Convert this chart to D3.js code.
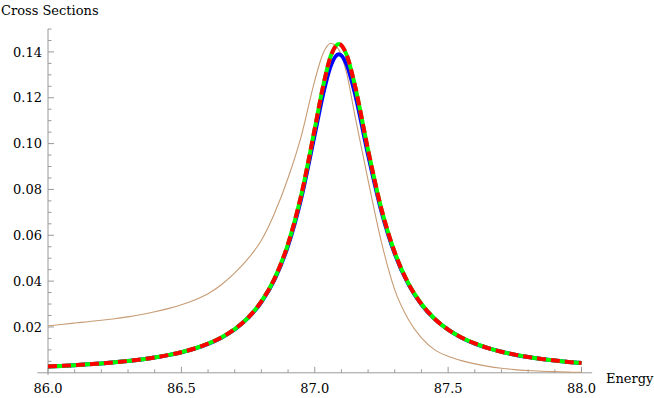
<!DOCTYPE html>
<html>
<head>
<meta charset="utf-8">
<script src="https://cdn.jsdelivr.net/npm/d3@7"></script>
<style>
  body { margin: 0; background: #fff; }
</style>
</head>
<body>
<script>
// Energy grid (shared by all curves)
var energy = [86.0, 86.05, 86.1, 86.15, 86.2, 86.25, 86.3, 86.35, 86.4, 86.45,
    86.5, 86.55, 86.6, 86.65, 86.7, 86.75, 86.8, 86.85, 86.9, 86.95,
    87.0, 87.03, 87.06, 87.09, 87.12, 87.15, 87.2, 87.25, 87.3, 87.35,
    87.4, 87.45, 87.5, 87.55, 87.6, 87.65, 87.7, 87.75, 87.8, 87.85,
    87.9, 87.95, 88.0];

// blue solid curve
var blueVals = [0.00276, 0.00302, 0.00333, 0.00368, 0.00409, 0.00458, 0.00515, 0.00584, 0.00668, 0.0077,
    0.00897, 0.01058, 0.01265, 0.01534, 0.01896, 0.02392, 0.03089, 0.0409, 0.0555, 0.0765,
    0.104, 0.1209, 0.134, 0.139, 0.1344, 0.1222, 0.0951, 0.0704, 0.0519, 0.0389,
    0.0298, 0.0234, 0.0188, 0.0153, 0.01274, 0.01073, 0.00916, 0.0079, 0.00688, 0.00604,
    0.00535, 0.00476, 0.00427];

// green / red dashed curve
var dashVals = [0.00276, 0.00302, 0.00333, 0.00368, 0.00409, 0.00458, 0.00515, 0.00584, 0.00668, 0.0077,
    0.00899, 0.0106, 0.0127, 0.01541, 0.01906, 0.02406, 0.03112, 0.04132, 0.0563, 0.0779,
    0.1065, 0.1243, 0.1382, 0.1435, 0.1386, 0.1257, 0.0972, 0.0715, 0.0525, 0.0392,
    0.03, 0.0235, 0.01885, 0.0154, 0.0128, 0.01077, 0.00918, 0.00792, 0.00689, 0.00605,
    0.00535, 0.00476, 0.00427];

// thin brown curve
var brownVals = [0.0205, 0.0211, 0.0217, 0.0223, 0.0229, 0.0236, 0.0244, 0.0254, 0.0266, 0.028,
    0.0297, 0.0318, 0.0345, 0.0384, 0.0436, 0.0498, 0.0578, 0.0698, 0.0850, 0.1035,
    0.1275, 0.1390, 0.1438, 0.1410, 0.1305, 0.1125, 0.0840, 0.0570, 0.0362, 0.0235,
    0.0152, 0.0100, 0.0072, 0.0053, 0.0039, 0.0028, 0.0020, 0.0014, 0.001, 0.0007,
    0.0005, 0.0003, 0.0002];

var xMajor = [86.0, 86.5, 87.0, 87.5, 88.0];
var yMajor = [0.02, 0.04, 0.06, 0.08, 0.10, 0.12, 0.14];

var width = 654, height = 398;

var svg = d3.select("body")
    .append("svg")
    .attr("width", width)
    .attr("height", height)
    .style("font-family", "DejaVu Serif")
    .attr("font-size", 13);

var x = d3.scaleLinear().domain([86, 88]).range([48, 581.5]);
var y = d3.scaleLinear().domain([0, 0.15]).range([372.8, 29]);

var axisColor = "#9a9a9a";

// minor ticks, every 0.1 on x and 0.005 on y
var xMinor = d3.range(86.0, 88.0001, 0.1);
var yMinor = d3.range(0.005, 0.1501, 0.005);

var g = svg.append("g");

// x axis line + ticks (pointing up into plot)
g.append("line")
    .attr("x1", x(85.96)).attr("x2", x(88.04))
    .attr("y1", y(0)).attr("y2", y(0))
    .attr("stroke", axisColor).attr("stroke-width", 1);

g.selectAll(".xminor")
    .data(xMinor)
    .enter()
    .append("line")
    .attr("x1", d => x(d)).attr("x2", d => x(d))
    .attr("y1", y(0)).attr("y2", d => {
        var isMajor = xMajor.some(m => Math.abs(m - d) < 1e-6);
        return y(0) - (isMajor ? 6 : 3.5);
    })
    .attr("stroke", axisColor);

g.selectAll(".xlabel")
    .data(xMajor)
    .enter()
    .append("text")
    .attr("x", d => x(d))
    .attr("y", 393)
    .attr("text-anchor", "middle")
    .text(d => d3.format(".1f")(d));

// y axis line + ticks (pointing right into plot)
g.append("line")
    .attr("x1", x(86)).attr("x2", x(86))
    .attr("y1", y(-0.001)).attr("y2", y(0.15))
    .attr("stroke", axisColor).attr("stroke-width", 1);

g.selectAll(".yminor")
    .data(yMinor)
    .enter()
    .append("line")
    .attr("y1", d => y(d)).attr("y2", d => y(d))
    .attr("x1", x(86)).attr("x2", d => {
        var isMajor = yMajor.some(m => Math.abs(m - d) < 1e-6);
        return x(86) + (isMajor ? 6 : 3.5);
    })
    .attr("stroke", axisColor);

g.selectAll(".ylabel")
    .data(yMajor)
    .enter()
    .append("text")
    .attr("x", 42)
    .attr("y", d => y(d))
    .attr("dy", "0.36em")
    .attr("text-anchor", "end")
    .text(d => d3.format(".2f")(d));

// axis titles
svg.append("text")
    .attr("x", 1)
    .attr("y", 15)
    .text("Cross Sections");

svg.append("text")
    .attr("x", 606)
    .attr("y", 383)
    .text("Energy");

// curves
var line = d3.line()
    .x(d => x(d[0]))
    .y(d => y(d[1]))
    .curve(d3.curveMonotoneX);

var brownPts = energy.map((e, i) => [e, brownVals[i]]);
var bluePts = energy.map((e, i) => [e, blueVals[i]]);
var dashPts = energy.map((e, i) => [e, dashVals[i]]);

svg.append("path")
    .attr("d", line(brownPts))
    .attr("fill", "none")
    .attr("stroke", "#c79c74")
    .attr("stroke-width", 1.1);

svg.append("path")
    .attr("d", line(bluePts))
    .attr("fill", "none")
    .attr("stroke", "#0000ff")
    .attr("stroke-width", 4);

svg.append("path")
    .attr("d", line(dashPts))
    .attr("fill", "none")
    .attr("stroke", "#00ff00")
    .attr("stroke-width", 4);

svg.append("path")
    .attr("d", line(dashPts))
    .attr("fill", "none")
    .attr("stroke", "#ff0000")
    .attr("stroke-width", 4)
    .attr("stroke-dasharray", "9,5");
</script>
</body>
</html>
